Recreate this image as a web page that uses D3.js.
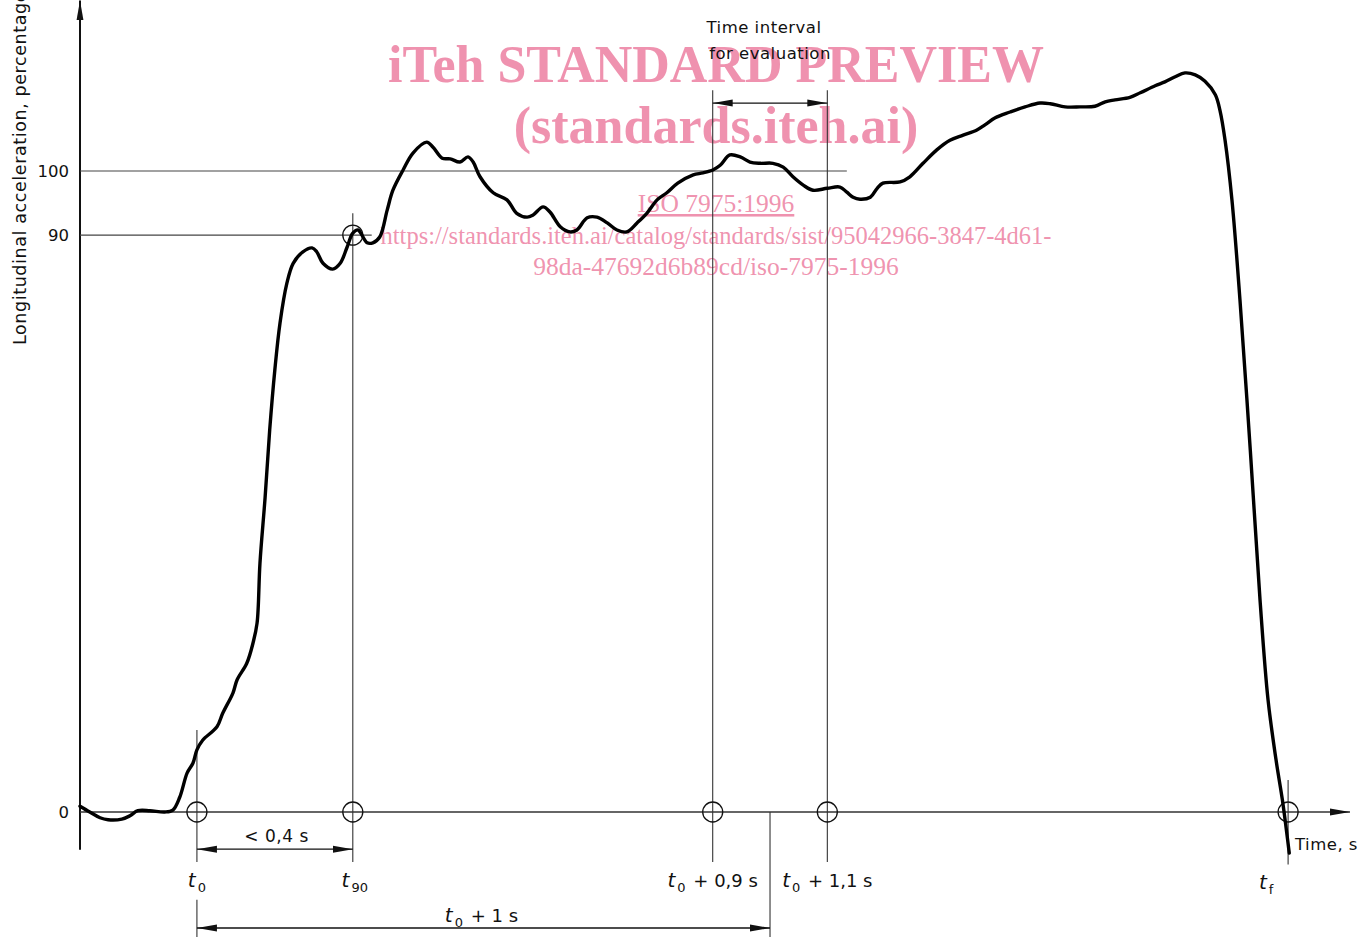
<!DOCTYPE html>
<html>
<head>
<meta charset="utf-8">
<script src="https://cdn.jsdelivr.net/npm/d3@7"></script>
<style>
  html, body { margin: 0; padding: 0; background: #fff; }
  svg { display: block; }
</style>
</head>
<body>
<svg id="chart"></svg>
<script>
// Curve: time relative to t0 (s) and acceleration (%)
const times = [-0.204, -0.187, -0.169, -0.155, -0.131, -0.117, -0.103, -0.082, -0.056, -0.042,
  -0.030, -0.017, -0.007, 0.000, 0.010, 0.035, 0.045, 0.063, 0.070, 0.087,
  0.098, 0.105, 0.110, 0.119, 0.127, 0.136, 0.145, 0.157, 0.168, 0.185,
  0.201, 0.209, 0.220, 0.237, 0.250, 0.262, 0.272, 0.281, 0.297, 0.307,
  0.319, 0.332, 0.342, 0.360, 0.377, 0.401, 0.412, 0.428, 0.442, 0.459,
  0.473, 0.482, 0.494, 0.517, 0.541, 0.558, 0.576, 0.586, 0.604, 0.616,
  0.634, 0.651, 0.663, 0.681, 0.698, 0.716, 0.733, 0.750, 0.768, 0.785,
  0.803, 0.820, 0.839, 0.866, 0.883, 0.901, 0.913, 0.930, 0.948, 0.965,
  0.983, 1.005, 1.023, 1.040, 1.058, 1.075, 1.100, 1.122, 1.134, 1.145,
  1.157, 1.175, 1.187, 1.197, 1.227, 1.244, 1.267, 1.291, 1.314, 1.337,
  1.361, 1.375, 1.393, 1.419, 1.445, 1.471, 1.489, 1.515, 1.541, 1.567,
  1.585, 1.602, 1.628, 1.646, 1.672, 1.689, 1.707, 1.724, 1.742, 1.759,
  1.777, 1.785, 1.794, 1.806, 1.820, 1.838, 1.855, 1.869, 1.883, 1.894,
  1.901, 1.906];
const accel = [0.9, 0.0, -0.9, -1.2, -1.1, -0.6, 0.2, 0.2, 0.0, 0.3,
  2.3, 6.1, 7.6, 9.7, 11.2, 13.3, 15.4, 18.6, 20.6, 23.2,
  26.4, 29.5, 38.8, 49.1, 59.6, 69.0, 76.3, 82.5, 85.6, 87.4,
  88.0, 87.4, 85.6, 84.7, 85.6, 88.1, 90.3, 90.8, 88.8, 88.8,
  89.7, 93.9, 97.0, 100.2, 102.8, 104.5, 103.7, 102.0, 101.9, 101.4,
  102.2, 101.4, 99.1, 96.6, 95.5, 93.4, 92.8, 93.1, 94.4, 93.6,
  91.3, 90.5, 90.8, 92.7, 92.8, 91.9, 90.8, 90.5, 91.9, 93.4,
  95.5, 96.6, 98.1, 99.4, 99.7, 100.2, 100.9, 102.5, 102.2, 101.4,
  101.2, 101.2, 100.6, 99.1, 97.8, 97.0, 97.3, 97.5, 96.7, 95.9,
  95.6, 95.9, 97.3, 98.1, 98.3, 99.1, 101.2, 103.3, 104.8, 105.6,
  106.4, 107.2, 108.3, 109.2, 110.0, 110.6, 110.5, 110.0, 110.0, 110.1,
  110.8, 111.1, 111.5, 112.2, 113.3, 113.9, 114.7, 115.3, 115.0, 114.0,
  111.9, 109.5, 104.8, 95.5, 79.9, 56.5, 33.1, 17.5, 8.1, 1.9,
  -2.8, -6.4];

// y ticks
const yTicks = [0, 90, 100];
// marked instants (s after t0)
const markNames = ["t0", "t90", "t0+0.9", "t0+1.1", "tf"];
const markTimes = [0, 0.272, 0.9, 1.1, 1.904];
const t90Level = 90;
const t0plus1 = 1.0;

const W = 1368, H = 938;
const ink = "#111";
const pink = "#ee89a8";
const font = "'DejaVu Sans', sans-serif";

const svg = d3.select("#chart").attr("width", W).attr("height", H)
  .attr("viewBox", [0, 0, W, H]);

const x = d3.scaleLinear().domain([-0.204, 2.012]).range([80, 1350]);
const y = d3.scaleLinear().domain([0, 100]).range([812, 171]);

// watermark (drawn first, the drawing sits on top of it)
const wm = svg.append("g")
  .attr("font-family", "'Liberation Serif', 'Times New Roman', serif")
  .attr("fill", pink)
  .attr("fill-opacity", 0.92)
  .attr("text-anchor", "middle");
wm.append("text").attr("x", 716).attr("y", 82)
  .attr("font-size", 52).attr("font-weight", "bold").text("iTeh STANDARD PREVIEW");
wm.append("text").attr("x", 716).attr("y", 143)
  .attr("font-size", 52).attr("font-weight", "bold").text("(standards.iteh.ai)");
wm.append("text").attr("x", 716).attr("y", 212)
  .attr("font-size", 25.5).attr("text-decoration", "underline").text("ISO 7975:1996");
wm.append("text").attr("x", 716).attr("y", 244)
  .attr("font-size", 24.5).text("https://standards.iteh.ai/catalog/standards/sist/95042966-3847-4d61-");
wm.append("text").attr("x", 716).attr("y", 275)
  .attr("font-size", 25.5).text("98da-47692d6b89cd/iso-7975-1996");

// arrowheads
const defs = svg.append("defs");
function marker(id, color) {
  defs.append("marker")
    .attr("id", id)
    .attr("viewBox", "0 0 20 10")
    .attr("refX", 20).attr("refY", 5)
    .attr("markerWidth", 20).attr("markerHeight", 10)
    .attr("markerUnits", "userSpaceOnUse")
    .attr("orient", "auto-start-reverse")
    .append("path")
    .attr("d", "M0,1.5 L20,5 L0,8.5 Z")
    .attr("fill", color);
}
marker("arr", ink);

// axes
svg.append("line")
  .attr("x1", x(-0.204)).attr("x2", x(-0.204))
  .attr("y1", y(-5.9)).attr("y2", y(126.6))
  .attr("stroke", ink).attr("stroke-width", 2)
  .attr("marker-end", "url(#arr)");
svg.append("line")
  .attr("x1", x(-0.204)).attr("x2", x(2.012))
  .attr("y1", y(0)).attr("y2", y(0))
  .attr("stroke", "#333").attr("stroke-width", 1.6)
  .attr("marker-end", "url(#arr)");

// tick labels
svg.append("g").selectAll("text")
  .data(yTicks)
  .join("text")
  .attr("x", 69)
  .attr("y", d => y(d) + 6)
  .attr("text-anchor", "end")
  .attr("font-family", font)
  .attr("font-size", 16.5)
  .attr("fill", ink)
  .text(d => d);

// 100 and 90 reference lines
svg.append("line")
  .attr("x1", x(-0.204)).attr("x2", x(1.134))
  .attr("y1", y(100)).attr("y2", y(100))
  .attr("stroke", "#444").attr("stroke-width", 1.2);
svg.append("line")
  .attr("x1", x(-0.204)).attr("x2", x(0.305))
  .attr("y1", y(t90Level)).attr("y2", y(t90Level))
  .attr("stroke", "#444").attr("stroke-width", 1.2);

// vertical lines at the marked instants
const vTop = [12.8, 93.4, 112.6, 112.6, 5];
const vBottom = -7.8;
svg.append("g").selectAll("line")
  .data(markTimes)
  .join("line")
  .attr("x1", d => x(d)).attr("x2", d => x(d))
  .attr("y1", (d, i) => y(vTop[i]))
  .attr("y2", (d, i) => y(i === 4 ? -8.2 : vBottom))
  .attr("stroke", "#333").attr("stroke-width", 1.1);

// t0 + 1 s extension lines
svg.append("line")
  .attr("x1", x(0)).attr("x2", x(0))
  .attr("y1", y(-13.7)).attr("y2", y(-19.5))
  .attr("stroke", "#333").attr("stroke-width", 1.1);
svg.append("line")
  .attr("x1", x(t0plus1)).attr("x2", x(t0plus1))
  .attr("y1", y(0)).attr("y2", y(-19.5))
  .attr("stroke", "#333").attr("stroke-width", 1.1);

// circles
svg.append("g").selectAll("circle")
  .data(markTimes.map(t => [t, 0]).concat([[markTimes[1], t90Level]]))
  .join("circle")
  .attr("cx", d => x(d[0])).attr("cy", d => y(d[1]))
  .attr("r", 10)
  .attr("fill", "none").attr("stroke", ink).attr("stroke-width", 1.3);

// dimension arrows
function dim(t1, t2, level) {
  svg.append("line")
    .attr("x1", x(t1)).attr("x2", x(t2))
    .attr("y1", y(level)).attr("y2", y(level))
    .attr("stroke", ink).attr("stroke-width", 1.3)
    .attr("marker-start", "url(#arr)")
    .attr("marker-end", "url(#arr)");
}
dim(markTimes[0], markTimes[1], -5.8);
dim(markTimes[0], t0plus1, -18.1);
dim(markTimes[2], markTimes[3], 110.6);

// the curve
const pts = times.map((t, i) => [t, accel[i]]);
svg.append("path")
  .datum(pts)
  .attr("fill", "none")
  .attr("stroke", "#000")
  .attr("stroke-width", 3.4)
  .attr("stroke-linejoin", "round")
  .attr("stroke-linecap", "round")
  .attr("d", d3.line().x(d => x(d[0])).y(d => y(d[1])).curve(d3.curveCatmullRom.alpha(0.5)));

// labels
function label(px, py, txt, anchor, size) {
  return svg.append("text")
    .attr("x", px).attr("y", py)
    .attr("text-anchor", anchor || "middle")
    .attr("font-family", font)
    .attr("font-size", size || 16)
    .attr("letter-spacing", 0.5)
    .attr("fill", ink)
    .text(txt);
}
function tLabel(px, py, sub, rest) {
  const t = svg.append("text")
    .attr("x", px).attr("y", py)
    .attr("text-anchor", "middle")
    .attr("font-family", font)
    .attr("font-size", 18)
    .attr("fill", ink);
  t.append("tspan").attr("font-style", "italic").attr("font-size", 20).text("t");
  t.append("tspan").attr("font-size", 13).attr("dy", 5).attr("dx", 2).text(sub);
  if (rest) t.append("tspan").attr("dy", -5).attr("dx", 2).text(rest);
}
tLabel(x(markTimes[0]), 887, "0");
tLabel(x(markTimes[1]) + 2, 887, "90");
tLabel(x(markTimes[2]), 887, "0", " + 0,9 s");
tLabel(x(markTimes[3]), 887, "0", " + 1,1 s");
tLabel(x(markTimes[4]) - 22, 889, "f");
tLabel(x(0.5) - 2, 922, "0", " + 1 s");
label(x(0.139), 842, "< 0,4 s", "middle", 17);
label(x(1.0) - 6, 33, "Time interval", "middle", 16.5);
label(x(1.0), 59, "for evaluation", "middle", 16.5);
label(1295, 850, "Time, s", "start", 16.5);

svg.append("text")
  .attr("transform", "translate(26,345) rotate(-90)")
  .attr("text-anchor", "start")
  .attr("font-family", font)
  .attr("font-size", 17.5)
  .attr("letter-spacing", 0.6)
  .attr("fill", ink)
  .text("Longitudinal acceleration, percentage");
</script>
</body>
</html>
